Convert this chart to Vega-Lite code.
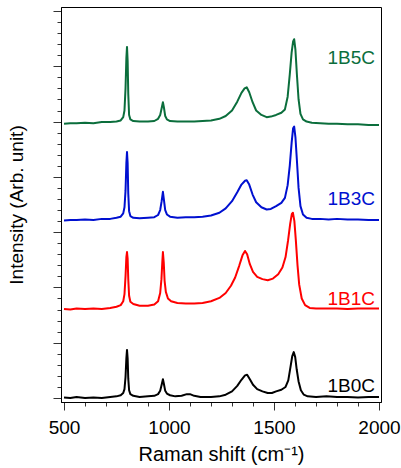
{
"$schema": "https://vega.github.io/schema/vega-lite/v6.json",
"width": 320, "height": 395,
"autosize": {"type": "none"},
"padding": {"left": 61, "top": 7, "right": 20, "bottom": 66},
"background": "#ffffff",
"config": {"font": "Liberation Sans", "view": {"stroke": "#000000", "strokeWidth": 1},
  "axis": {"grid": false, "domainColor": "#000000", "domainWidth": 1, "tickColor": "#333333", "tickWidth": 1, "labelColor": "#000000", "titleColor": "#000000", "labelFontSize": 19, "titleFontSize": 19, "titleFontWeight": "normal", "labelFont": "Liberation Sans", "titleFont": "Liberation Sans"}},
"datasets": {
"spectra": [
{"s":"1B0C","x":500,"y":0.01},{"s":"1B0C","x":530,"y":0.0},{"s":"1B0C","x":560,"y":0.02},{"s":"1B0C","x":600,"y":0.0},{"s":"1B0C","x":640,"y":0.01},{"s":"1B0C","x":680,"y":0.0},{"s":"1B0C","x":720,"y":0.02},{"s":"1B0C","x":750,"y":0.03},{"s":"1B0C","x":770,"y":0.05},{"s":"1B0C","x":782,"y":0.09},{"s":"1B0C","x":788,"y":0.16},{"s":"1B0C","x":793,"y":0.38},{"s":"1B0C","x":797,"y":0.72},{"s":"1B0C","x":800,"y":0.87},{"s":"1B0C","x":803,"y":0.72},{"s":"1B0C","x":806,"y":0.35},{"s":"1B0C","x":810,"y":0.14},{"s":"1B0C","x":816,"y":0.07},{"s":"1B0C","x":830,"y":0.04},{"s":"1B0C","x":860,"y":0.02},{"s":"1B0C","x":900,"y":0.03},{"s":"1B0C","x":930,"y":0.04},{"s":"1B0C","x":948,"y":0.07},{"s":"1B0C","x":958,"y":0.13},{"s":"1B0C","x":965,"y":0.24},{"s":"1B0C","x":971,"y":0.34},{"s":"1B0C","x":976,"y":0.25},{"s":"1B0C","x":982,"y":0.13},{"s":"1B0C","x":990,"y":0.08},{"s":"1B0C","x":1005,"y":0.05},{"s":"1B0C","x":1030,"y":0.03},{"s":"1B0C","x":1060,"y":0.04},{"s":"1B0C","x":1085,"y":0.07},{"s":"1B0C","x":1100,"y":0.07},{"s":"1B0C","x":1120,"y":0.04},{"s":"1B0C","x":1150,"y":0.02},{"s":"1B0C","x":1200,"y":0.02},{"s":"1B0C","x":1240,"y":0.03},{"s":"1B0C","x":1270,"y":0.06},{"s":"1B0C","x":1300,"y":0.12},{"s":"1B0C","x":1325,"y":0.22},{"s":"1B0C","x":1345,"y":0.33},{"s":"1B0C","x":1362,"y":0.41},{"s":"1B0C","x":1372,"y":0.42},{"s":"1B0C","x":1385,"y":0.34},{"s":"1B0C","x":1400,"y":0.24},{"s":"1B0C","x":1420,"y":0.16},{"s":"1B0C","x":1445,"y":0.12},{"s":"1B0C","x":1470,"y":0.09},{"s":"1B0C","x":1490,"y":0.09},{"s":"1B0C","x":1510,"y":0.12},{"s":"1B0C","x":1535,"y":0.15},{"s":"1B0C","x":1555,"y":0.2},{"s":"1B0C","x":1568,"y":0.32},{"s":"1B0C","x":1578,"y":0.55},{"s":"1B0C","x":1587,"y":0.76},{"s":"1B0C","x":1594,"y":0.83},{"s":"1B0C","x":1601,"y":0.74},{"s":"1B0C","x":1608,"y":0.52},{"s":"1B0C","x":1617,"y":0.3},{"s":"1B0C","x":1628,"y":0.14},{"s":"1B0C","x":1642,"y":0.06},{"s":"1B0C","x":1660,"y":0.03},{"s":"1B0C","x":1700,"y":0.02},{"s":"1B0C","x":1750,"y":0.03},{"s":"1B0C","x":1800,"y":0.02},{"s":"1B0C","x":1850,"y":0.02},{"s":"1B0C","x":1900,"y":0.01},{"s":"1B0C","x":1950,"y":0.02},{"s":"1B0C","x":2000,"y":0.02},
{"s":"1B1C","x":500,"y":1.61},{"s":"1B1C","x":530,"y":1.6},{"s":"1B1C","x":560,"y":1.62},{"s":"1B1C","x":600,"y":1.61},{"s":"1B1C","x":640,"y":1.62},{"s":"1B1C","x":680,"y":1.61},{"s":"1B1C","x":720,"y":1.63},{"s":"1B1C","x":750,"y":1.65},{"s":"1B1C","x":770,"y":1.68},{"s":"1B1C","x":782,"y":1.75},{"s":"1B1C","x":788,"y":1.88},{"s":"1B1C","x":793,"y":2.2},{"s":"1B1C","x":797,"y":2.55},{"s":"1B1C","x":800,"y":2.64},{"s":"1B1C","x":803,"y":2.52},{"s":"1B1C","x":806,"y":2.15},{"s":"1B1C","x":810,"y":1.85},{"s":"1B1C","x":816,"y":1.74},{"s":"1B1C","x":830,"y":1.7},{"s":"1B1C","x":860,"y":1.67},{"s":"1B1C","x":900,"y":1.67},{"s":"1B1C","x":930,"y":1.69},{"s":"1B1C","x":948,"y":1.75},{"s":"1B1C","x":958,"y":1.9},{"s":"1B1C","x":964,"y":2.15},{"s":"1B1C","x":968,"y":2.45},{"s":"1B1C","x":971,"y":2.64},{"s":"1B1C","x":975,"y":2.45},{"s":"1B1C","x":979,"y":2.12},{"s":"1B1C","x":985,"y":1.92},{"s":"1B1C","x":995,"y":1.8},{"s":"1B1C","x":1010,"y":1.75},{"s":"1B1C","x":1040,"y":1.72},{"s":"1B1C","x":1080,"y":1.71},{"s":"1B1C","x":1120,"y":1.71},{"s":"1B1C","x":1160,"y":1.72},{"s":"1B1C","x":1200,"y":1.75},{"s":"1B1C","x":1240,"y":1.81},{"s":"1B1C","x":1270,"y":1.9},{"s":"1B1C","x":1295,"y":2.03},{"s":"1B1C","x":1315,"y":2.18},{"s":"1B1C","x":1335,"y":2.4},{"s":"1B1C","x":1350,"y":2.58},{"s":"1B1C","x":1362,"y":2.66},{"s":"1B1C","x":1372,"y":2.6},{"s":"1B1C","x":1385,"y":2.42},{"s":"1B1C","x":1400,"y":2.28},{"s":"1B1C","x":1420,"y":2.19},{"s":"1B1C","x":1445,"y":2.15},{"s":"1B1C","x":1470,"y":2.13},{"s":"1B1C","x":1495,"y":2.16},{"s":"1B1C","x":1520,"y":2.24},{"s":"1B1C","x":1540,"y":2.36},{"s":"1B1C","x":1555,"y":2.55},{"s":"1B1C","x":1567,"y":2.85},{"s":"1B1C","x":1577,"y":3.15},{"s":"1B1C","x":1585,"y":3.33},{"s":"1B1C","x":1590,"y":3.35},{"s":"1B1C","x":1597,"y":3.2},{"s":"1B1C","x":1604,"y":2.85},{"s":"1B1C","x":1612,"y":2.4},{"s":"1B1C","x":1620,"y":2.05},{"s":"1B1C","x":1632,"y":1.8},{"s":"1B1C","x":1648,"y":1.68},{"s":"1B1C","x":1670,"y":1.63},{"s":"1B1C","x":1700,"y":1.62},{"s":"1B1C","x":1750,"y":1.62},{"s":"1B1C","x":1800,"y":1.62},{"s":"1B1C","x":1850,"y":1.61},{"s":"1B1C","x":1900,"y":1.62},{"s":"1B1C","x":1950,"y":1.62},{"s":"1B1C","x":2000,"y":1.62},
{"s":"1B3C","x":500,"y":3.21},{"s":"1B3C","x":530,"y":3.22},{"s":"1B3C","x":560,"y":3.22},{"s":"1B3C","x":600,"y":3.23},{"s":"1B3C","x":640,"y":3.22},{"s":"1B3C","x":680,"y":3.24},{"s":"1B3C","x":720,"y":3.24},{"s":"1B3C","x":750,"y":3.26},{"s":"1B3C","x":770,"y":3.28},{"s":"1B3C","x":782,"y":3.34},{"s":"1B3C","x":788,"y":3.45},{"s":"1B3C","x":793,"y":3.75},{"s":"1B3C","x":797,"y":4.25},{"s":"1B3C","x":800,"y":4.45},{"s":"1B3C","x":803,"y":4.25},{"s":"1B3C","x":806,"y":3.7},{"s":"1B3C","x":810,"y":3.38},{"s":"1B3C","x":816,"y":3.29},{"s":"1B3C","x":830,"y":3.26},{"s":"1B3C","x":860,"y":3.25},{"s":"1B3C","x":900,"y":3.26},{"s":"1B3C","x":930,"y":3.27},{"s":"1B3C","x":948,"y":3.31},{"s":"1B3C","x":958,"y":3.4},{"s":"1B3C","x":965,"y":3.56},{"s":"1B3C","x":971,"y":3.73},{"s":"1B3C","x":976,"y":3.58},{"s":"1B3C","x":982,"y":3.4},{"s":"1B3C","x":990,"y":3.32},{"s":"1B3C","x":1005,"y":3.28},{"s":"1B3C","x":1040,"y":3.26},{"s":"1B3C","x":1080,"y":3.27},{"s":"1B3C","x":1120,"y":3.27},{"s":"1B3C","x":1160,"y":3.28},{"s":"1B3C","x":1200,"y":3.3},{"s":"1B3C","x":1240,"y":3.35},{"s":"1B3C","x":1270,"y":3.43},{"s":"1B3C","x":1300,"y":3.56},{"s":"1B3C","x":1325,"y":3.72},{"s":"1B3C","x":1345,"y":3.86},{"s":"1B3C","x":1362,"y":3.93},{"s":"1B3C","x":1370,"y":3.94},{"s":"1B3C","x":1382,"y":3.86},{"s":"1B3C","x":1398,"y":3.68},{"s":"1B3C","x":1415,"y":3.54},{"s":"1B3C","x":1440,"y":3.45},{"s":"1B3C","x":1465,"y":3.41},{"s":"1B3C","x":1485,"y":3.42},{"s":"1B3C","x":1510,"y":3.47},{"s":"1B3C","x":1535,"y":3.53},{"s":"1B3C","x":1552,"y":3.62},{"s":"1B3C","x":1565,"y":3.85},{"s":"1B3C","x":1575,"y":4.2},{"s":"1B3C","x":1584,"y":4.62},{"s":"1B3C","x":1591,"y":4.88},{"s":"1B3C","x":1596,"y":4.91},{"s":"1B3C","x":1602,"y":4.72},{"s":"1B3C","x":1609,"y":4.3},{"s":"1B3C","x":1617,"y":3.8},{"s":"1B3C","x":1626,"y":3.47},{"s":"1B3C","x":1638,"y":3.32},{"s":"1B3C","x":1655,"y":3.26},{"s":"1B3C","x":1680,"y":3.24},{"s":"1B3C","x":1720,"y":3.24},{"s":"1B3C","x":1760,"y":3.23},{"s":"1B3C","x":1800,"y":3.24},{"s":"1B3C","x":1850,"y":3.23},{"s":"1B3C","x":1900,"y":3.23},{"s":"1B3C","x":1950,"y":3.22},{"s":"1B3C","x":2000,"y":3.22},
{"s":"1B5C","x":500,"y":4.96},{"s":"1B5C","x":530,"y":4.97},{"s":"1B5C","x":560,"y":4.97},{"s":"1B5C","x":600,"y":4.98},{"s":"1B5C","x":640,"y":4.97},{"s":"1B5C","x":680,"y":4.99},{"s":"1B5C","x":720,"y":4.99},{"s":"1B5C","x":750,"y":5.0},{"s":"1B5C","x":770,"y":5.02},{"s":"1B5C","x":782,"y":5.08},{"s":"1B5C","x":788,"y":5.2},{"s":"1B5C","x":793,"y":5.6},{"s":"1B5C","x":797,"y":6.15},{"s":"1B5C","x":800,"y":6.35},{"s":"1B5C","x":803,"y":6.1},{"s":"1B5C","x":806,"y":5.5},{"s":"1B5C","x":810,"y":5.12},{"s":"1B5C","x":816,"y":5.04},{"s":"1B5C","x":830,"y":5.01},{"s":"1B5C","x":860,"y":5.0},{"s":"1B5C","x":900,"y":5.0},{"s":"1B5C","x":930,"y":5.01},{"s":"1B5C","x":948,"y":5.05},{"s":"1B5C","x":958,"y":5.12},{"s":"1B5C","x":965,"y":5.24},{"s":"1B5C","x":971,"y":5.35},{"s":"1B5C","x":976,"y":5.25},{"s":"1B5C","x":982,"y":5.1},{"s":"1B5C","x":990,"y":5.04},{"s":"1B5C","x":1005,"y":5.01},{"s":"1B5C","x":1040,"y":5.0},{"s":"1B5C","x":1080,"y":5.0},{"s":"1B5C","x":1120,"y":5.0},{"s":"1B5C","x":1160,"y":5.01},{"s":"1B5C","x":1200,"y":5.02},{"s":"1B5C","x":1240,"y":5.05},{"s":"1B5C","x":1270,"y":5.1},{"s":"1B5C","x":1300,"y":5.2},{"s":"1B5C","x":1325,"y":5.36},{"s":"1B5C","x":1345,"y":5.52},{"s":"1B5C","x":1360,"y":5.6},{"s":"1B5C","x":1370,"y":5.62},{"s":"1B5C","x":1382,"y":5.53},{"s":"1B5C","x":1398,"y":5.35},{"s":"1B5C","x":1415,"y":5.2},{"s":"1B5C","x":1440,"y":5.12},{"s":"1B5C","x":1465,"y":5.08},{"s":"1B5C","x":1485,"y":5.09},{"s":"1B5C","x":1510,"y":5.12},{"s":"1B5C","x":1535,"y":5.16},{"s":"1B5C","x":1552,"y":5.22},{"s":"1B5C","x":1565,"y":5.45},{"s":"1B5C","x":1575,"y":5.85},{"s":"1B5C","x":1584,"y":6.25},{"s":"1B5C","x":1591,"y":6.45},{"s":"1B5C","x":1596,"y":6.49},{"s":"1B5C","x":1602,"y":6.3},{"s":"1B5C","x":1609,"y":5.85},{"s":"1B5C","x":1617,"y":5.4},{"s":"1B5C","x":1626,"y":5.14},{"s":"1B5C","x":1638,"y":5.04},{"s":"1B5C","x":1655,"y":5.0},{"s":"1B5C","x":1680,"y":4.98},{"s":"1B5C","x":1720,"y":4.97},{"s":"1B5C","x":1760,"y":4.96},{"s":"1B5C","x":1800,"y":4.96},{"s":"1B5C","x":1850,"y":4.95},{"s":"1B5C","x":1900,"y":4.95},{"s":"1B5C","x":1950,"y":4.94},{"s":"1B5C","x":2000,"y":4.94}
],
"labels": [
{"s":"1B5C","x":1981,"y":6.05},{"s":"1B3C","x":1981,"y":3.49},{"s":"1B1C","x":1981,"y":1.68},{"s":"1B0C","x":1981,"y":0.114}
]},
"encoding": {
  "x": {"field": "x", "type": "quantitative", "scale": {"domain": [485.7, 2009.5], "nice": false, "zero": false},
    "axis": {"title": "Raman shift (cm⁻¹)", "values": [500,600,700,800,900,1000,1100,1200,1300,1400,1500,1600,1700,1800,1900,2000], "format": "d",
      "tickSize": {"condition": {"test": "datum.value % 500 === 0", "value": 8}, "value": 4},
      "labelExpr": "datum.value % 500 === 0 ? datum.label : ''", "labelFlush": false, "labelOverlap": false, "labelPadding": 8, "titlePadding": 7, "titleFontSize": 20}},
  "y": {"field": "y", "type": "quantitative", "scale": {"domain": [-0.072, 7.072], "nice": false, "zero": false},
    "axis": {"title": "Intensity (Arb. unit)", "labels": false, "values": [0,0.2,0.4,0.6,0.8,1,1.2,1.4,1.6,1.8,2,2.2,2.4,2.6,2.8,3,3.2,3.4,3.6,3.8,4,4.2,4.4,4.6,4.8,5,5.2,5.4,5.6,5.8,6,6.2,6.4,6.6,6.8,7],
      "tickSize": {"condition": {"test": "abs(datum.value - round(datum.value)) < 0.001", "value": 8}, "value": 4}, "titlePadding": 26}},
  "color": {"field": "s", "type": "nominal", "scale": {"domain": ["1B0C","1B1C","1B3C","1B5C"], "range": ["#000000","#ff0000","#0010d0","#0b6e3c"]}, "legend": null}
},
"layer": [
  {"data": {"name": "spectra"}, "mark": {"type": "line", "strokeWidth": 2, "strokeJoin": "round"}, "encoding": {"detail": {"field": "s"}}},
  {"data": {"name": "labels"}, "mark": {"type": "text", "align": "right", "baseline": "alphabetic", "fontSize": 19, "font": "Liberation Sans"}, "encoding": {"text": {"field": "s"}}}
]
}
